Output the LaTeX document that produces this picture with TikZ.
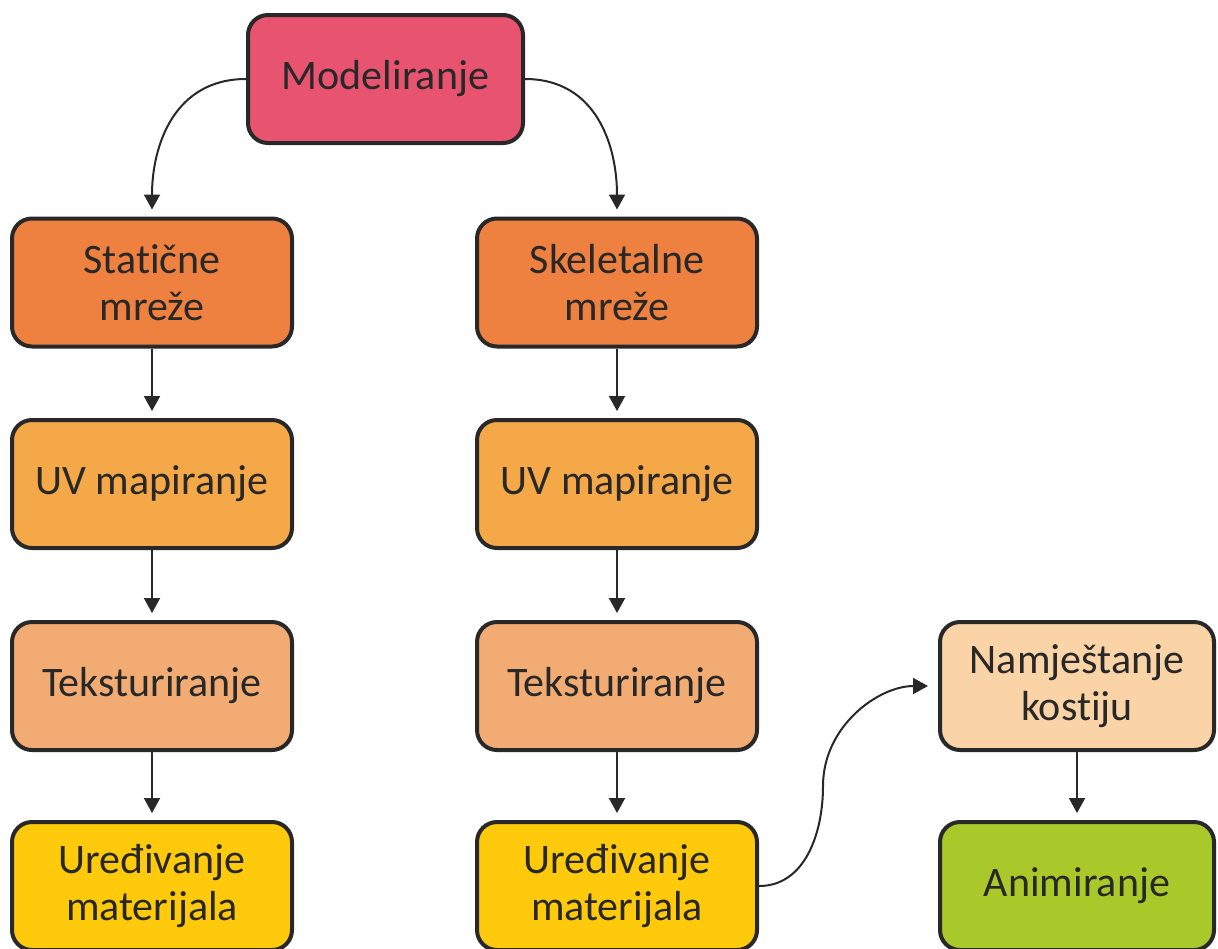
\documentclass[tikz,border=0pt]{standalone}
\usepackage{fontspec}
\setmainfont{Carlito}[Ligatures=NoCommon]
\usetikzlibrary{arrows.meta}
\definecolor{modcol}{RGB}{232,84,112}
\definecolor{mrezacol}{RGB}{238,129,64}
\definecolor{uvcol}{RGB}{244,168,71}
\definecolor{tekscol}{RGB}{242,172,115}
\definecolor{matcol}{RGB}{255,201,12}
\definecolor{kostcol}{RGB}{250,211,166}
\definecolor{animcol}{RGB}{169,201,43}
\definecolor{rub}{RGB}{40,40,40}
\tikzset{arr/.style = {-{Triangle[width=8pt,length=7.5pt]}, line width=1pt, draw=rub, shorten >=3.5pt}}
\tikzset{korak/.style = {draw=rub, line width=2pt, rounded corners=10pt,
                         minimum width=140pt, minimum height=64pt, align=center,
                         text=rub, font=\fontsize{21}{23.5}\selectfont}}

\begin{document}
\begin{tikzpicture}[x=0.5pt, y=-0.5pt]
      \useasboundingbox (0, 0) rectangle (1218, 948);

      \node [korak, fill=modcol, minimum width=137.5pt] (mod) at (385.5, 79) {Modeliranje};

      \node [korak, fill=mrezacol] (stat) at (152, 282.5) {Statične\\mreže};
      \node [korak, fill=uvcol] (uv1) at (152, 484) {UV mapiranje};
      \node [korak, fill=tekscol] (teks1) at (152, 686) {Teksturiranje};
      \node [korak, fill=matcol] (mat1) at (152, 886) {Uređivanje\\materijala};

      \node [korak, fill=mrezacol] (skel) at (617, 282.5) {Skeletalne\\mreže};
      \node [korak, fill=uvcol] (uv2) at (617, 484) {UV mapiranje};
      \node [korak, fill=tekscol] (teks2) at (617, 686) {Teksturiranje};
      \node [korak, fill=matcol] (mat2) at (617, 886) {Uređivanje\\materijala};

      \node [korak, fill=kostcol, minimum width=137pt] (kost) at (1077, 686) {Namještanje\\kostiju};
      \node [korak, fill=animcol, minimum width=137pt] (anim) at (1077, 886) {Animiranje};

      \coordinate (zavoj) at (823, 786);

      \draw [arr] (mod.west) to [out=180, in=90, looseness=1.1] (stat.north);
      \draw [arr] (mod.east) to [out=0, in=90, looseness=1.1] (skel.north);

      \draw [arr] (stat) -- (uv1);
      \draw [arr] (uv1) -- (teks1);
      \draw [arr] (teks1) -- (mat1);
      \draw [arr] (skel) -- (uv2);
      \draw [arr] (uv2) -- (teks2);
      \draw [arr] (teks2) -- (mat2);

      \draw [arr, shorten >=5pt] (mat2.east) to [out=0, in=-90] (zavoj)
                                 to [out=90, in=180] (kost.west);
      \draw [arr] (kost) -- (anim);
    \end{tikzpicture}
\end{document}
